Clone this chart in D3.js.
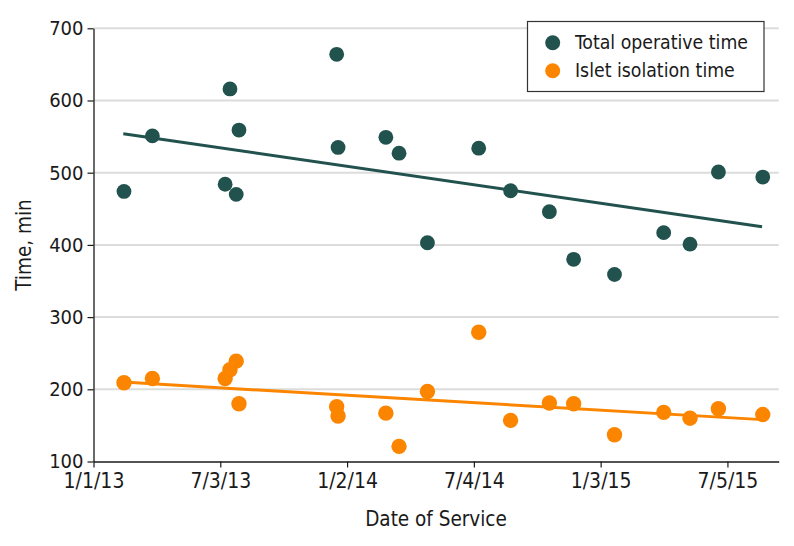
<!DOCTYPE html>
<html>
<head>
<meta charset="utf-8">
<script src="https://cdn.jsdelivr.net/npm/d3@7"></script>
<style>
  html, body { margin: 0; padding: 0; background: #fff; }
  svg text { font-family: "DejaVu Sans Condensed", "DejaVu Sans", sans-serif; font-stretch: condensed; fill: #1a1a1a; }
</style>
</head>
<body>
<svg id="chart" width="794" height="546"></svg>
<script>
const serviceDates = ["2013-02-14","2013-03-27","2013-07-10","2013-07-17","2013-07-26","2013-07-30","2013-12-18","2013-12-20","2014-02-27","2014-03-18","2014-04-28","2014-07-11","2014-08-26","2014-10-21","2014-11-25","2015-01-23","2015-04-04","2015-05-12","2015-06-22","2015-08-25"];
const totalOperative = [474,551,484,616,470,559,664,535,549,527,403,534,475,446,380,359,417,401,501,494];
const isletIsolation = [209,215,215,227,239,180,176,163,167,121,197,279,157,181,180,137,168,160,173,165];
const trendDates = ["2013-02-13","2015-08-24"];
const trendTotal = [554,425];
const trendIslet = [210,158];
const xTickDates = ["2013-01-01","2013-07-03","2014-01-02","2014-07-04","2015-01-03","2015-07-05"];
const xTickLabels = ["1/1/13","7/3/13","1/2/14","7/4/14","1/3/15","7/5/15"];
const yTicks = [100,200,300,400,500,600,700];
const seriesNames = ["Total operative time","Islet isolation time"];
const seriesColors = ["#22524e","#fc8500"];

const parse = d3.utcParse("%Y-%m-%d");
const svg = d3.select("#chart");

const x = d3.scaleUtc().domain([parse("2013-01-01"), parse("2015-09-17")]).range([93.5, 778.7]);
const y = d3.scaleLinear().domain([100, 700]).range([461.5, 28.3]);

// gridlines
svg.append("g").selectAll("line").data(yTicks.filter(v => v > 100)).join("line")
  .attr("x1", x.range()[0]).attr("x2", x.range()[1])
  .attr("y1", d => y(d)).attr("y2", d => y(d))
  .attr("stroke", "#dcdcdc").attr("stroke-width", 2);

// y axis
const yAxis = svg.append("g").attr("transform", `translate(${x.range()[0]},0)`)
  .call(d3.axisLeft(y).tickValues(yTicks).tickSize(6).tickPadding(4).tickSizeOuter(0));
yAxis.select(".domain").attr("stroke", "#1a1a1a").attr("stroke-width", 1.3);
yAxis.selectAll(".tick line").attr("stroke", "#1a1a1a").attr("stroke-width", 1.2);
yAxis.selectAll(".tick text").attr("font-size", 20).attr("fill", "#1a1a1a");

// x axis
const xAxis = svg.append("g").attr("transform", `translate(0,${y(100)})`)
  .call(d3.axisBottom(x).tickValues(xTickDates.map(parse))
    .tickFormat((d, i) => xTickLabels[i]).tickSize(6).tickPadding(6).tickSizeOuter(0));
xAxis.select(".domain").attr("stroke", "#1a1a1a").attr("stroke-width", 1.3);
xAxis.selectAll(".tick text").attr("font-size", 21).attr("fill", "#1a1a1a");
xAxis.selectAll(".tick line").attr("stroke", "#1a1a1a").attr("stroke-width", 1.2);

// axis titles
svg.append("text").attr("x", 436).attr("y", 526).attr("text-anchor", "middle")
  .attr("font-size", 20.5).text("Date of Service");
svg.append("text").attr("transform", "translate(31,245) rotate(-90)").attr("text-anchor", "middle")
  .attr("font-size", 20.5).text("Time, min");

// trend lines
const line = d3.line().x(d => x(parse(d[0]))).y(d => y(d[1]));
svg.append("path").datum(trendDates.map((d, i) => [d, trendTotal[i]]))
  .attr("d", line).attr("fill", "none").attr("stroke", seriesColors[0]).attr("stroke-width", 3);
svg.append("path").datum(trendDates.map((d, i) => [d, trendIslet[i]]))
  .attr("d", line).attr("fill", "none").attr("stroke", seriesColors[1]).attr("stroke-width", 3);

// points
svg.append("g").selectAll("circle").data(serviceDates.map((d, i) => [d, totalOperative[i]])).join("circle")
  .attr("cx", d => x(parse(d[0]))).attr("cy", d => y(d[1])).attr("r", 7.4).attr("fill", seriesColors[0]);
svg.append("g").selectAll("circle").data(serviceDates.map((d, i) => [d, isletIsolation[i]])).join("circle")
  .attr("cx", d => x(parse(d[0]))).attr("cy", d => y(d[1])).attr("r", 7.7).attr("fill", seriesColors[1]);

// legend
const lg = svg.append("g");
lg.append("rect").attr("x", 527.5).attr("y", 21.5).attr("width", 236.5).attr("height", 70)
  .attr("fill", "#fff").attr("stroke", "#333").attr("stroke-width", 1.2);
seriesNames.forEach((name, i) => {
  const cy = 42.7 + i * 28;
  lg.append("circle").attr("cx", 552.7).attr("cy", cy).attr("r", 7.5).attr("fill", seriesColors[i]);
  lg.append("text").attr("x", 575).attr("y", cy).attr("dy", "0.35em").attr("font-size", 19.3).text(name);
});
</script>
</body>
</html>
